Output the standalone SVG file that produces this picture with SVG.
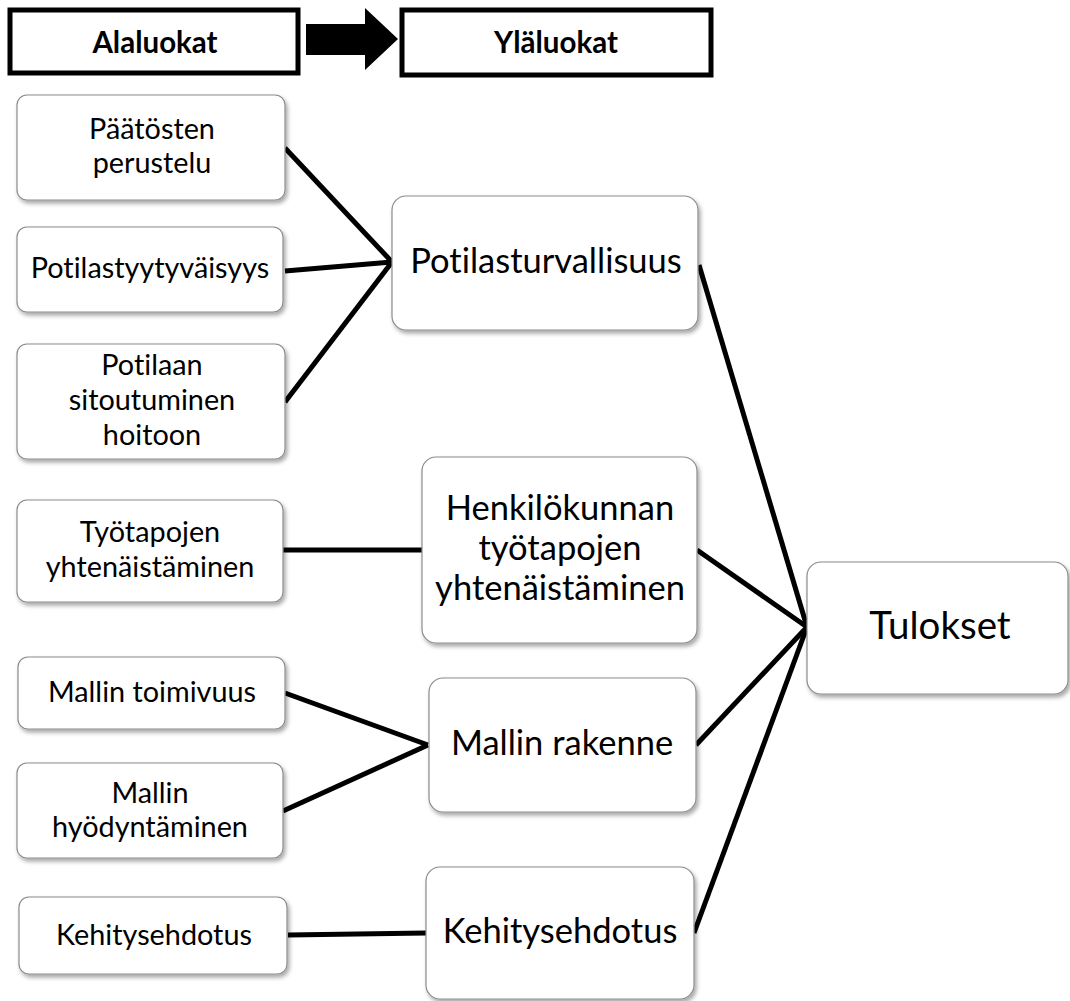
<svg xmlns="http://www.w3.org/2000/svg" width="1070" height="1001" viewBox="0 0 1070 1001">
<defs>
<filter id="sh" x="-10%" y="-10%" width="130%" height="130%">
<feDropShadow dx="2" dy="3" stdDeviation="2" flood-color="#000" flood-opacity="0.35"/>
</filter>
</defs>
<style>
.hdr{fill:#fff;stroke:#000;stroke-width:5}
.box{fill:#fff;stroke:#8c8c8c;stroke-width:1.2;filter:url(#sh)}
text{font-family:Lato,"Liberation Sans",sans-serif;fill:#000;text-anchor:middle;font-variant-ligatures:none}
.b{font-weight:bold;font-size:29.5px}
.s{font-size:28.8px}
.m{font-size:34.5px}
.l{font-size:38.5px}
.c line{stroke:#000;stroke-width:5;stroke-linecap:butt}
</style>
<rect width="1070" height="1001" fill="#fff"/>
<g id="connectors" class="c">
<line x1="285" y1="148" x2="392" y2="262"/>
<line x1="285" y1="271" x2="392" y2="262"/>
<line x1="285" y1="402" x2="392" y2="262"/>
<line x1="283" y1="550" x2="422" y2="550"/>
<line x1="285" y1="693" x2="428" y2="745"/>
<line x1="283" y1="811" x2="428" y2="745"/>
<line x1="288" y1="935" x2="426" y2="933"/>
<line x1="699" y1="265" x2="807" y2="627"/>
<line x1="697" y1="550" x2="807" y2="627"/>
<line x1="696" y1="745" x2="807" y2="627"/>
<line x1="694" y1="933" x2="807" y2="627"/>
</g>
<g id="hdr-alaluokat">
<rect class="hdr" x="10" y="10" width="288" height="63"/>
<text class="b" x="155" y="53">Alaluokat</text>
</g>
<g id="hdr-arrow">
<polygon points="306,24 365,24 365,8 398,39 365,70 365,55 306,55" fill="#000"/>
</g>
<g id="hdr-ylaluokat">
<rect class="hdr" x="402" y="10" width="309" height="65"/>
<text class="b" x="556" y="53">Yläluokat</text>
</g>
<g id="n-paatosten">
<rect class="box" x="17" y="95" width="268" height="105" rx="10"/>
<text class="s" x="152" y="139">Päätösten</text>
<text class="s" x="152" y="173">perustelu</text>
</g>
<g id="n-potilastyytyvaisyys">
<rect class="box" x="17" y="227" width="266" height="85" rx="10"/>
<text class="s" x="150" y="278">Potilastyytyväisyys</text>
</g>
<g id="n-potilaan">
<rect class="box" x="17" y="344" width="268" height="115" rx="10"/>
<text class="s" x="152" y="375">Potilaan</text>
<text class="s" x="152" y="410">sitoutuminen</text>
<text class="s" x="152" y="445">hoitoon</text>
</g>
<g id="n-tyotapojen">
<rect class="box" x="17" y="500" width="266" height="102" rx="10"/>
<text class="s" x="150" y="542">Työtapojen</text>
<text class="s" x="150" y="577">yhtenäistäminen</text>
</g>
<g id="n-mallin-toimivuus">
<rect class="box" x="18" y="657" width="267" height="72" rx="10"/>
<text class="s" x="152" y="702">Mallin toimivuus</text>
</g>
<g id="n-mallin-hyodyntaminen">
<rect class="box" x="17" y="763" width="266" height="95" rx="10"/>
<text class="s" x="150" y="803">Mallin</text>
<text class="s" x="150" y="837">hyödyntäminen</text>
</g>
<g id="n-kehitysehdotus-ala">
<rect class="box" x="19" y="897" width="268" height="77" rx="10"/>
<text class="s" x="154" y="945">Kehitysehdotus</text>
</g>
<g id="n-potilasturvallisuus">
<rect class="box" x="392" y="196" width="306" height="134" rx="14"/>
<text class="m" x="546" y="273">Potilasturvallisuus</text>
</g>
<g id="n-henkilokunnan">
<rect class="box" x="422" y="457" width="275" height="186" rx="14"/>
<text class="m" x="560" y="520">Henkilökunnan</text>
<text class="m" x="560" y="560">työtapojen</text>
<text class="m" x="560" y="600">yhtenäistäminen</text>
</g>
<g id="n-mallin-rakenne">
<rect class="box" x="429" y="678" width="267" height="134" rx="14"/>
<text class="m" x="562" y="755">Mallin rakenne</text>
</g>
<g id="n-kehitysehdotus-yla">
<rect class="box" x="426" y="867" width="268" height="132" rx="14"/>
<text class="m" x="560" y="943">Kehitysehdotus</text>
</g>
<g id="n-tulokset">
<rect class="box" x="807" y="562" width="261" height="132" rx="14"/>
<text class="l" x="940" y="639">Tulokset</text>
</g>
</svg>
